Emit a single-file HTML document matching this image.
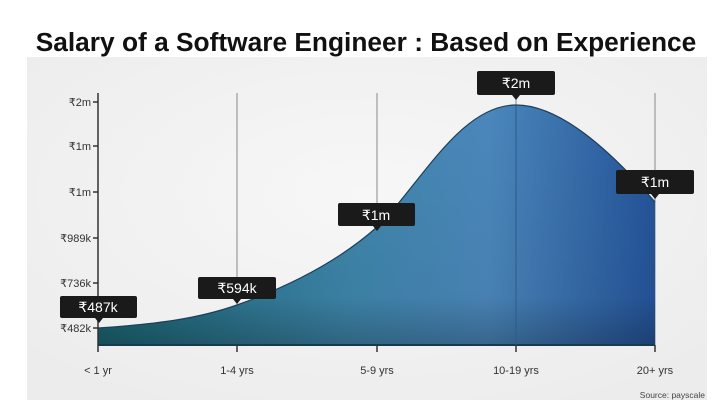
<!DOCTYPE html>
<html><head><meta charset="utf-8"><style>
body{margin:0;width:720px;height:410px;background:#fff;overflow:hidden;font-family:"Liberation Sans",sans-serif}
</style></head><body>
<svg width="720" height="410" viewBox="0 0 720 410" xmlns="http://www.w3.org/2000/svg" font-family="Liberation Sans, sans-serif">
<defs>
<linearGradient id="g" x1="0" y1="0" x2="1" y2="0">
<stop offset="0" stop-color="#1b6775"/>
<stop offset="0.45" stop-color="#3e86ab"/>
<stop offset="0.7" stop-color="#4b87bb"/>
<stop offset="1" stop-color="#24549a"/>
</linearGradient>
<linearGradient id="v" x1="0" y1="0" x2="0" y2="1">
<stop offset="0" stop-color="#000" stop-opacity="0"/>
<stop offset="0.8" stop-color="#000" stop-opacity="0.05"/>
<stop offset="1" stop-color="#000" stop-opacity="0.25"/>
</linearGradient>
<radialGradient id="bg" cx="0.5" cy="0.4" r="0.7">
<stop offset="0" stop-color="#f7f7f7"/><stop offset="1" stop-color="#ececec"/>
</radialGradient>
</defs>
<text x="366" y="51" text-anchor="middle" font-size="26.3" font-weight="bold" fill="#111">Salary of a Software Engineer : Based on Experience</text>
<rect x="27" y="57" width="680" height="343" fill="url(#bg)"/>
<g stroke="#888" stroke-width="1">
<line x1="237" y1="93" x2="237" y2="352"/>
<line x1="377" y1="93" x2="377" y2="352"/>
<line x1="516" y1="93" x2="516" y2="352"/>
<line x1="655" y1="93" x2="655" y2="352"/>
</g>
<path d="M98,328 C160,324 200,318 237,305 C290,286 340,260 377,227 C420,185 460,105 516,105 C560,105 610,150 655,202 L655,345 L98,345 Z" fill="url(#g)"/>
<path d="M98,328 C160,324 200,318 237,305 C290,286 340,260 377,227 C420,185 460,105 516,105 C560,105 610,150 655,202 L655,345 L98,345 Z" fill="url(#v)"/>
<path d="M98,328 C160,324 200,318 237,305 C290,286 340,260 377,227 C420,185 460,105 516,105 C560,105 610,150 655,202" fill="none" stroke="#1d3f5a" stroke-width="1.2"/>
<line x1="98" y1="345" x2="655" y2="345" stroke="#163a4e" stroke-width="2"/>
<line x1="516" y1="105" x2="516" y2="345" stroke="#2a5c88"/>
<g stroke="#333" stroke-width="1.5">
<line x1="98" y1="93" x2="98" y2="352"/>
<line x1="93" y1="102" x2="98" y2="102"/>
<line x1="93" y1="146" x2="98" y2="146"/>
<line x1="93" y1="192" x2="98" y2="192"/>
<line x1="93" y1="238" x2="98" y2="238"/>
<line x1="93" y1="283" x2="98" y2="283"/>
<line x1="93" y1="328" x2="98" y2="328"/>
<line x1="237" y1="345" x2="237" y2="352"/>
<line x1="377" y1="345" x2="377" y2="352"/>
<line x1="516" y1="345" x2="516" y2="352"/>
<line x1="655" y1="345" x2="655" y2="352"/>
</g>
<g font-size="11" fill="#333" text-anchor="end">
<text x="91" y="106">₹2m</text>
<text x="91" y="150">₹1m</text>
<text x="91" y="196">₹1m</text>
<text x="91" y="242">₹989k</text>
<text x="91" y="287">₹736k</text>
<text x="91" y="332">₹482k</text>
</g>
<g font-size="11" fill="#333" text-anchor="middle">
<text x="98" y="374">&lt; 1 yr</text>
<text x="237" y="374">1-4 yrs</text>
<text x="377" y="374">5-9 yrs</text>
<text x="516" y="374">10-19 yrs</text>
<text x="655" y="374">20+ yrs</text>
</g>
<text x="705" y="398" font-size="8.5" fill="#444" text-anchor="end">Source: payscale</text>
<g fill="#1a1a1a">
<rect x="60" y="296" width="77" height="22" rx="2"/><path d="M95,318 L99,323 L103,318Z"/>
<rect x="198" y="277" width="78" height="22" rx="2"/><path d="M233,299 L237,304 L241,299Z"/>
<rect x="338" y="203" width="77" height="23" rx="2"/><path d="M373,226 L377,231 L381,226Z"/>
<rect x="477" y="71" width="78" height="24" rx="2"/><path d="M512,95 L516,100 L520,95Z"/>
<rect x="616" y="170" width="78" height="24" rx="2"/><path d="M651,194 L655,199 L659,194Z"/>
</g>
<g font-size="14" fill="#fff" text-anchor="middle">
<text x="98" y="312">₹487k</text>
<text x="237" y="293">₹594k</text>
<text x="376" y="220">₹1m</text>
<text x="516" y="88">₹2m</text>
<text x="655" y="187">₹1m</text>
</g>
</svg>
</body></html>
